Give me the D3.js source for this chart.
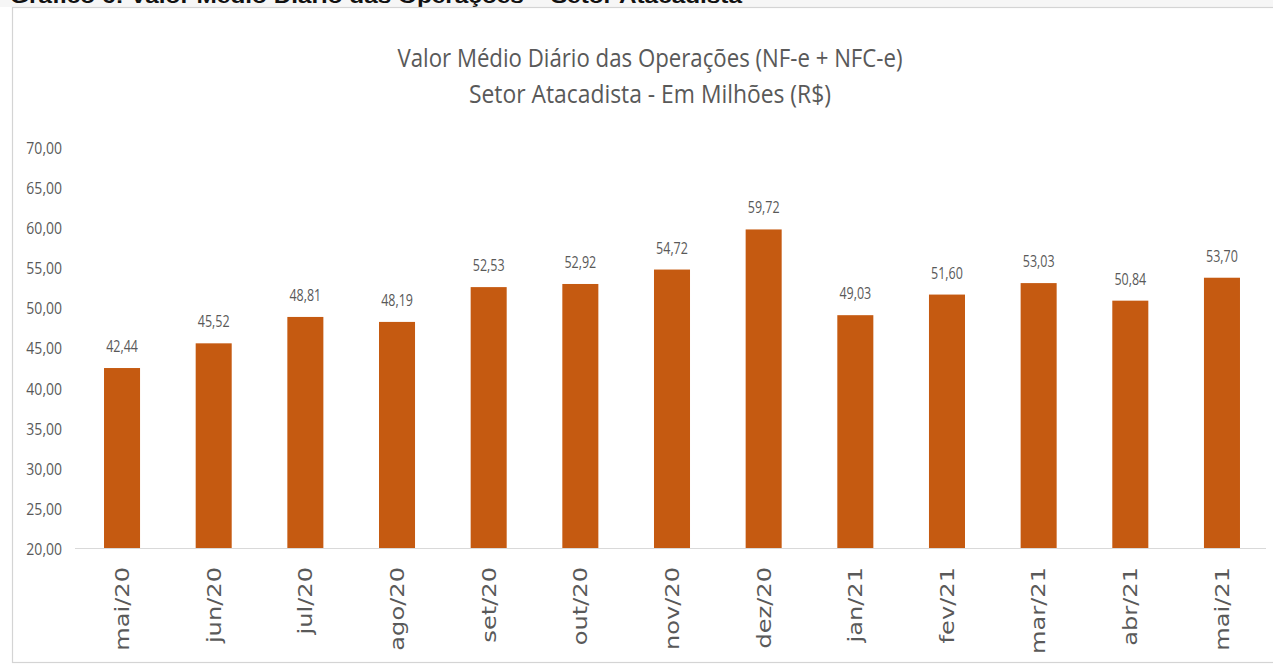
<!DOCTYPE html>
<html><head><meta charset="utf-8">
<script src="https://cdnjs.cloudflare.com/ajax/libs/d3/7.8.5/d3.min.js"></script>
<style>html,body{margin:0;padding:0;background:#fff;overflow:hidden}</style>
</head><body>
<svg id="c" width="1273" height="664"></svg>
<script>
const categories = ["mai/20","jun/20","jul/20","ago/20","set/20","out/20","nov/20","dez/20","jan/21","fev/21","mar/21","abr/21","mai/21"];
const values = [42.44,45.52,48.81,48.19,52.53,52.92,54.72,59.72,49.03,51.60,53.03,50.84,53.70];
const yTicks = [20,25,30,35,40,45,50,55,60,65,70];
const titleLines = ["Valor Médio Diário das Operações (NF-e + NFC-e)","Setor Atacadista - Em Milhões (R$)"];
const headerText = "Gráfico 6: Valor Médio Diário das Operações – Setor Atacadista";

const svg = d3.select("#c");
const W = 1273, H = 664;
const txt = "#595959", barColor = "#c55a11", gridColor = "#d9d9d9";
const fmt = v => v.toFixed(2).replace(".", ",");

// page header (cut off at top, as in the reference)
svg.append("rect").attr("x",0).attr("y",0).attr("width",W).attr("height",7).attr("fill","#f6f6f6");
svg.append("text").attr("x",10).attr("y",3).attr("font-family","Liberation Sans, Arial, sans-serif")
  .attr("font-weight","bold").attr("font-size",20).attr("fill","#111")
  .attr("textLength",732).attr("lengthAdjust","spacingAndGlyphs").text(headerText);

// chart frame
svg.append("rect").attr("x",12.5).attr("y",7.5).attr("width",1300).attr("height",655)
  .attr("fill","#fff").attr("stroke","#d4d4d4").attr("stroke-width",1.2);

// title
const tl = [{t:titleLines[0], y:67, w:505},{t:titleLines[1], y:103, w:362}];
svg.selectAll("text.title").data(tl).join("text").attr("class","title")
  .attr("x",650).attr("y",d=>d.y).attr("text-anchor","middle")
  .attr("font-family","Open Sans, Noto Sans, sans-serif").attr("font-size",25).attr("fill",txt)
  .attr("textLength",d=>d.w).attr("lengthAdjust","spacingAndGlyphs").text(d=>d.t);

const x = d3.scaleBand().domain(categories).range([76.2, 1267.8]).paddingInner(0.607).paddingOuter(0.3035);
const y = d3.scaleLinear().domain([20,70]).range([548,147]);

// y axis labels
const yAxis = d3.axisLeft(y).tickValues(yTicks).tickFormat(fmt).tickSize(0).tickPadding(0);
const ya = svg.append("g").attr("transform","translate(62,0)").call(yAxis);
ya.select(".domain").remove();
ya.selectAll("text").attr("fill",txt).attr("font-family","Open Sans, Noto Sans, sans-serif")
  .attr("font-size",14).attr("dy",null).attr("dominant-baseline","central")
  .attr("x",0).attr("y",0).attr("transform","scale(1,1.15)");

// bars
svg.selectAll("rect.bar").data(values).join("rect").attr("class","bar")
  .attr("x",(d,i)=>x(categories[i])).attr("width",x.bandwidth())
  .attr("y",d=>y(d)).attr("height",d=>y(20)-y(d)).attr("fill",barColor);

// baseline
svg.append("line").attr("x1",75).attr("x2",1266).attr("y1",548.5).attr("y2",548.5)
  .attr("stroke",gridColor).attr("stroke-width",1.2);

// value labels
svg.selectAll("text.val").data(values).join("text").attr("class","val")
  .attr("transform",(d,i)=>`translate(${x(categories[i])+x.bandwidth()/2},${y(d)-16}) scale(1,1.35)`)
  .attr("text-anchor","middle").attr("font-family","Open Sans, Noto Sans, sans-serif")
  .attr("font-size",12.5).attr("fill",txt).text(d=>fmt(d));

// x labels
const xAxis = d3.axisBottom(x).tickSize(0).tickPadding(0);
const xa = svg.append("g").attr("transform","translate(0,548)").call(xAxis);
xa.select(".domain").remove();
xa.selectAll("text").attr("fill",txt).attr("font-family","DejaVu Sans, sans-serif")
  .attr("font-size",19).attr("text-anchor","end").attr("y",null).attr("dy","0.36em")
  .attr("transform","translate(0,19) rotate(-90) scale(1.27,1)");
</script>
</body></html>
